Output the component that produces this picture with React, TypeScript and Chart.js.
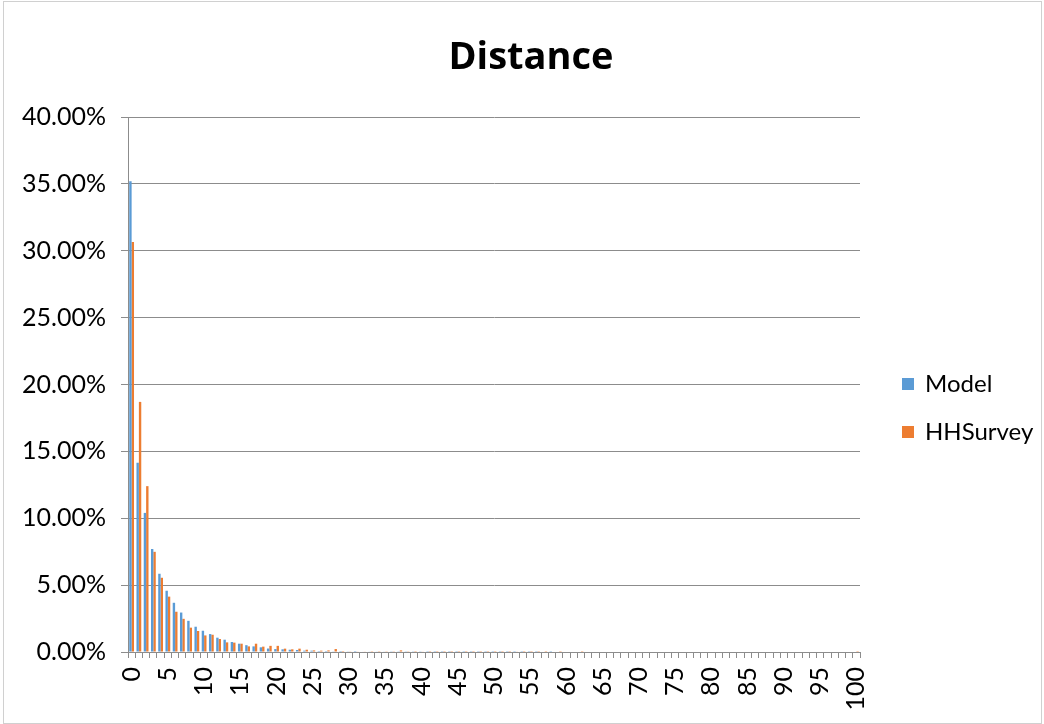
import { useEffect, useRef } from 'react';
import { Chart, registerables } from 'chart.js';

Chart.register(...registerables);

// Distance categories 0..100
const distanceLabels: string[] = Array.from({ length: 101 }, (_, i) => String(i));

// Share of trips (%) by distance, Model
const modelShare: number[] = [
  35.2, 14.15, 10.4, 7.7, 5.85, 4.58, 3.68, 2.95, 2.33, 1.89,
  1.59, 1.34, 1.07, 0.92, 0.75, 0.62, 0.51, 0.42, 0.35, 0.26,
  0.22, 0.2, 0.17, 0.15, 0.1, 0.1, 0.07, 0.07, 0.05, 0.07,
  0.05, 0.07, 0.04, 0.03, 0.03, 0.03, 0.02, 0.02, 0.02, 0.02,
  0.02, 0.01, 0.01, 0.01, 0.01, 0.01, 0.01, 0.01, 0.01, 0.01,
  0.01, 0.01, 0.01, 0.01, 0.01, 0.01, 0.01, 0.0, 0.01, 0.0,
  0.0, 0.0, 0.0, 0.0, 0.0, 0.0, 0.0, 0.0, 0.0, 0.0,
  0.0, 0.0, 0.0, 0.0, 0.0, 0.0, 0.0, 0.0, 0.0, 0.0,
  0.0, 0.0, 0.0, 0.0, 0.0, 0.0, 0.0, 0.0, 0.0, 0.0,
  0.0, 0.0, 0.0, 0.0, 0.0, 0.0, 0.0, 0.0, 0.0, 0.0,
  0.0,
];

// Share of trips (%) by distance, HHSurvey
const surveyShare: number[] = [
  30.65, 18.7, 12.4, 7.49, 5.55, 4.14, 3.01, 2.48, 1.82, 1.57,
  1.24, 1.29, 0.97, 0.72, 0.7, 0.62, 0.42, 0.62, 0.4, 0.46,
  0.46, 0.25, 0.2, 0.25, 0.17, 0.12, 0.1, 0.12, 0.22, 0.07,
  0.05, 0.03, 0.03, 0.06, 0.06, 0.02, 0.02, 0.12, 0.02, 0.01,
  0.03, 0.01, 0.01, 0.01, 0.01, 0.01, 0.01, 0.01, 0.01, 0.01,
  0.01, 0.01, 0.01, 0.03, 0.01, 0.01, 0.01, 0.01, 0.0, 0.01,
  0.0, 0.0, 0.01, 0.0, 0.0, 0.0, 0.0, 0.0, 0.0, 0.0,
  0.0, 0.0, 0.0, 0.0, 0.0, 0.0, 0.0, 0.0, 0.0, 0.0,
  0.0, 0.0, 0.0, 0.0, 0.0, 0.0, 0.0, 0.0, 0.0, 0.0,
  0.0, 0.0, 0.0, 0.0, 0.0, 0.0, 0.0, 0.0, 0.0, 0.0,
  0.01,
];

const seriesNames = ['Model', 'HHSurvey'];
const seriesColors = ['#5B9BD5', '#ED7D31'];

const FONT = 'Lato, "Liberation Sans", sans-serif';
const TITLE_FONT = '"Open Sans", Lato, sans-serif';

const sideLegend = {
  id: 'sideLegend',
  afterDraw(chart: any) {
    const ctx = chart.ctx as CanvasRenderingContext2D;
    ctx.save();
    chart.data.datasets.forEach((ds: any, i: number) => {
      const cy = 384 + i * 48;
      ctx.fillStyle = ds.backgroundColor;
      ctx.fillRect(902, cy - 6, 12, 12);
      ctx.fillStyle = '#000000';
      ctx.font = `24px ${FONT}`;
      ctx.textBaseline = 'middle';
      ctx.textAlign = 'left';
      ctx.fillText(ds.label, 925, cy);
    });
    ctx.restore();
  },
};

export default function App() {
  const canvasRef = useRef<HTMLCanvasElement | null>(null);

  useEffect(() => {
    if (!canvasRef.current) return;
    const chart = new Chart(canvasRef.current, {
      type: 'bar',
      data: {
        labels: distanceLabels,
        datasets: [
          {
            label: seriesNames[0],
            data: modelShare,
            backgroundColor: seriesColors[0],
            barPercentage: 1,
            categoryPercentage: 0.66,
          },
          {
            label: seriesNames[1],
            data: surveyShare,
            backgroundColor: seriesColors[1],
            barPercentage: 1,
            categoryPercentage: 0.66,
          },
        ],
      },
      options: {
        animation: false,
        responsive: false,
        maintainAspectRatio: false,
        layout: { padding: { left: 18, right: 0, top: 0, bottom: 0 } },
        plugins: {
          legend: { display: false },
          tooltip: { enabled: false },
          title: {
            display: true,
            text: 'Distance',
            color: '#000000',
            font: { family: TITLE_FONT, size: 38, weight: 'bold', lineHeight: 1.2 },
            padding: { top: 35, bottom: 36.4 },
          },
        },
        scales: {
          x: {
            type: 'category',
            offset: true,
            grid: {
              offset: true,
              drawOnChartArea: false,
              drawTicks: true,
              tickLength: 6,
              color: '#8c8c8c',
            },
            border: { display: true, color: '#8c8c8c', width: 1 },
            ticks: {
              autoSkip: false,
              maxRotation: 90,
              minRotation: 90,
              padding: 9,
              color: '#000000',
              font: { family: FONT, size: 25 },
              callback: (_v: any, idx: number) => (idx % 5 === 0 ? distanceLabels[idx] : ''),
            },
            afterFit: (scale: any) => {
              scale.height = 72;
            },
          },
          y: {
            min: 0,
            max: 40,
            grid: {
              color: '#8c8c8c',
              drawTicks: true,
              tickLength: 7,
            },
            border: { display: true, color: '#8c8c8c', width: 1 },
            ticks: {
              stepSize: 5,
              padding: 15,
              color: '#000000',
              font: { family: FONT, size: 25 },
              callback: (v: any) => `${Number(v).toFixed(2)}%`,
            },
            afterFit: (scale: any) => {
              scale.width = 110;
            },
          },
          legendSpace: {
            type: 'linear',
            position: 'right',
            display: true,
            grid: { display: false, drawTicks: false },
            border: { display: false },
            ticks: { display: false },
            afterFit: (scale: any) => {
              scale.width = 184;
            },
          },
        },
      },
      plugins: [sideLegend],
    });
    return () => chart.destroy();
  }, []);

  return (
    <div style={{ position: 'absolute', left: 0, top: 0, width: 1044, height: 724, background: '#ffffff' }}>
      <div
        style={{
          position: 'absolute',
          left: 3,
          top: 1,
          width: 1037,
          height: 721,
          border: '1px solid #d0d0d0',
          pointerEvents: 'none',
        }}
      />
      <canvas ref={canvasRef} width={1044} height={724} style={{ position: 'absolute', left: 0, top: 0 }} />
    </div>
  );
}
